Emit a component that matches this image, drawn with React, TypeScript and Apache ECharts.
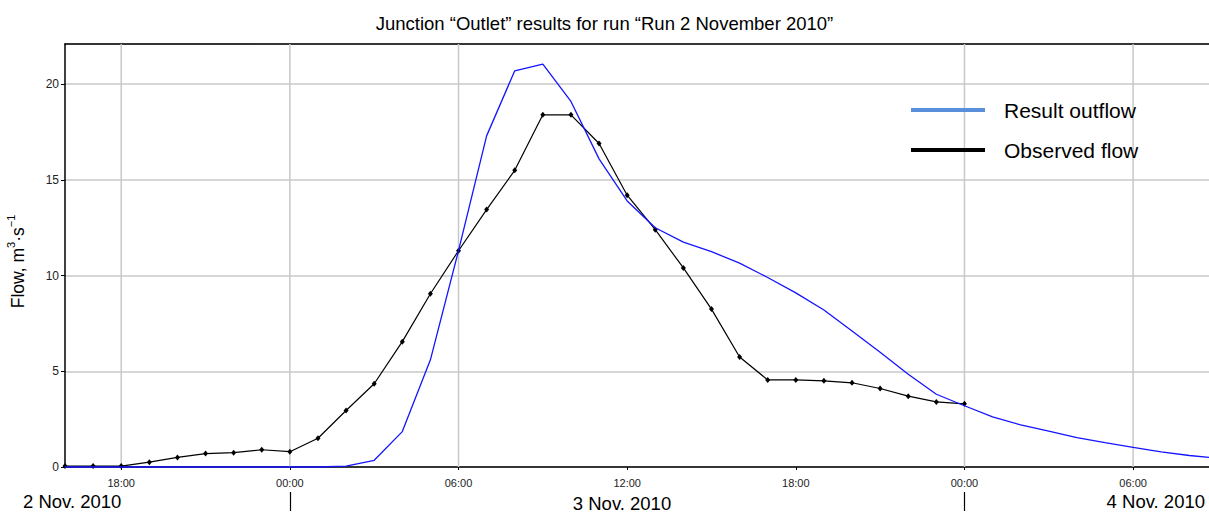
import React, { useEffect, useRef } from "react";
import * as echarts from "echarts";

const FONT = "'Liberation Sans', Arial, sans-serif";

// hours counted from 00:00, 2 Nov. 2010
const observedHours = [16, 17, 18, 19, 20, 21, 22, 23, 24, 25, 26, 27, 28, 29, 30, 31, 32, 33, 34, 35, 36, 37, 38, 39, 40, 41, 42, 43, 44, 45, 46, 47, 48];
const observedFlow = [0.05, 0.05, 0.05, 0.25, 0.5, 0.7, 0.75, 0.9, 0.8, 1.5, 2.95, 4.35, 6.55, 9.05, 11.3, 13.45, 15.5, 18.4, 18.4, 16.9, 14.2, 12.4, 10.4, 8.25, 5.75, 4.55, 4.55, 4.5, 4.4, 4.1, 3.7, 3.4, 3.3];

const resultHours = [16, 17, 18, 19, 20, 21, 22, 23, 24, 25, 26, 27, 28, 29, 30, 31, 32, 33, 34, 35, 36, 37, 38, 39, 40, 41, 42, 43, 44, 45, 46, 47, 48, 49, 50, 51, 52, 53, 54, 55, 56, 56.7];
const resultOutflow = [0, 0, 0, 0, 0, 0, 0, 0, 0, 0, 0.05, 0.35, 1.85, 5.6, 11.3, 17.3, 20.7, 21.05, 19.1, 16.1, 13.9, 12.5, 11.75, 11.25, 10.65, 9.9, 9.1, 8.2, 7.1, 6.0, 4.85, 3.8, 3.2, 2.62, 2.2, 1.87, 1.53, 1.27, 1.03, 0.79, 0.6, 0.5];

const tickHours = [18, 24, 30, 36, 42, 48, 54];
const gridHours = [18, 24, 30, 48, 54];
const dayTickHours = [24, 48];
const dayLabels = ["2 Nov. 2010", "3 Nov. 2010", "4 Nov. 2010"];
const seriesNames = ["Result outflow", "Observed flow"];
const titleText = "Junction \u201cOutlet\u201d results for run \u201cRun 2 November 2010\u201d";

const X_MIN = 16;
const X_MAX = 56.7;

function fmtHour(v: number) {
  const h = Math.round(v) % 24;
  return (h < 10 ? "0" : "") + h + ":00";
}

export default function App() {
  const ref = useRef<HTMLDivElement>(null);
  useEffect(() => {
    if (!ref.current) return;
    const chart = echarts.init(ref.current, undefined, { renderer: "svg" });
    const option: any = {
      animation: false,
      backgroundColor: "#fff",
      title: {
        text: titleText,
        left: "center",
        top: 9,
        textStyle: { fontSize: 18.5, fontWeight: "normal", color: "#000", fontFamily: FONT },
      },
      legend: {
        orient: "vertical",
        left: 911,
        top: 98,
        padding: 0,
        itemWidth: 74,
        itemHeight: 4,
        itemGap: 16,
        icon: "rect",
        selectedMode: false,
        textStyle: { fontSize: 21, color: "#000", fontFamily: FONT, lineHeight: 24, padding: [0, 0, 0, 14] },
        data: [
          { name: seriesNames[0], itemStyle: { color: "#5a8fdc" } },
          { name: seriesNames[1], itemStyle: { color: "#000" } },
        ],
      },
      grid: { left: 65, top: 44, right: 0, bottom: 46, containLabel: false, outerBoundsMode: "none" },
      xAxis: [
        {
          type: "value",
          min: X_MIN,
          max: X_MAX,
          position: "bottom",
          axisLine: { show: true, lineStyle: { color: "#000", width: 1.5 } },
          axisTick: { show: true, customValues: tickHours, length: 3, lineStyle: { color: "#000", width: 1 } },
          axisLabel: {
            customValues: tickHours,
            formatter: (v: number) => fmtHour(v),
            fontSize: 11,
            color: "#222",
            fontFamily: FONT,
            margin: 10,
          },
          splitLine: { show: false },
        },
        {
          type: "value",
          min: X_MIN,
          max: X_MAX,
          position: "top",
          axisLine: { show: true, lineStyle: { color: "#000", width: 1.5 } },
          axisTick: { show: false },
          axisLabel: { show: false },
          splitLine: { show: false },
        },
        {
          type: "value",
          min: X_MIN,
          max: X_MAX,
          position: "bottom",
          offset: 25,
          axisLine: { show: false },
          axisTick: { show: true, customValues: dayTickHours, length: 19, lineStyle: { color: "#000", width: 1.2 } },
          axisLabel: { show: false },
          splitLine: { show: false },
        },
      ],
      yAxis: {
        type: "value",
        min: 0,
        max: 22.1,
        interval: 5,
        name: "{a|Flow, m}{s|3}{a|\u00b7s}{s|\u22121}{g| }",
        nameLocation: "middle",
        nameGap: 38,
        nameRotate: 90,
        nameTextStyle: {
          rich: {
            a: { fontSize: 17.5, fontFamily: FONT, color: "#000", lineHeight: 22, verticalAlign: "bottom" },
            s: { fontSize: 11, fontFamily: FONT, color: "#000", lineHeight: 12, verticalAlign: "top" },
            g: { fontSize: 11, width: 12 },
          },
        },
        axisLine: { show: true, lineStyle: { color: "#000", width: 1.5 } },
        axisTick: { show: true, length: 4, lineStyle: { color: "#000" } },
        axisLabel: { fontSize: 12, color: "#222", fontFamily: FONT, margin: 6, showMaxLabel: false },
        splitLine: { show: true, lineStyle: { color: "#c8c8c8", width: 1.5 } },
      },
      series: [
        {
          type: "custom",
          name: "vgrid",
          z: 1,
          silent: true,
          data: gridHours.map((h) => [h, 0]),
          renderItem: (params: any, api: any) => {
            const p = api.coord([api.value(0), 0]);
            const cs = params.coordSys;
            return {
              type: "line",
              shape: { x1: p[0], y1: cs.y, x2: p[0], y2: cs.y + cs.height },
              style: { stroke: "#c8c8c8", lineWidth: 1.5 },
            };
          },
        },
        {
          type: "line",
          name: seriesNames[1],
          z: 3,
          clip: false,
          data: observedHours.map((h, i) => [h, observedFlow[i]]),
          symbol: "diamond",
          symbolSize: [5, 6],
          showSymbol: true,
          itemStyle: { color: "#000" },
          lineStyle: { color: "#000", width: 1.2 },
        },
        {
          type: "line",
          name: seriesNames[0],
          z: 4,
          clip: false,
          data: resultHours.map((h, i) => [h, resultOutflow[i]]),
          showSymbol: false,
          symbol: "none",
          itemStyle: { color: "#1414ff" },
          lineStyle: { color: "#1414ff", width: 1.3 },
        },
      ],
      graphic: [
        {
          type: "text",
          x: 23,
          y: 501,
          style: { text: dayLabels[0], fontSize: 18.5, fontFamily: FONT, fill: "#000", align: "left", verticalAlign: "middle" },
        },
        {
          type: "text",
          x: 622,
          y: 503,
          style: { text: dayLabels[1], fontSize: 18.5, fontFamily: FONT, fill: "#000", align: "center", verticalAlign: "middle" },
        },
        {
          type: "text",
          x: 1205,
          y: 501,
          style: { text: dayLabels[2], fontSize: 18.5, fontFamily: FONT, fill: "#000", align: "right", verticalAlign: "middle" },
        },
      ],
    };
    chart.setOption(option);
    return () => chart.dispose();
  }, []);
  return (
    <div
      ref={ref}
      style={{ position: "absolute", left: 0, top: 0, width: 1209, height: 513, background: "#fff" }}
    />
  );
}
